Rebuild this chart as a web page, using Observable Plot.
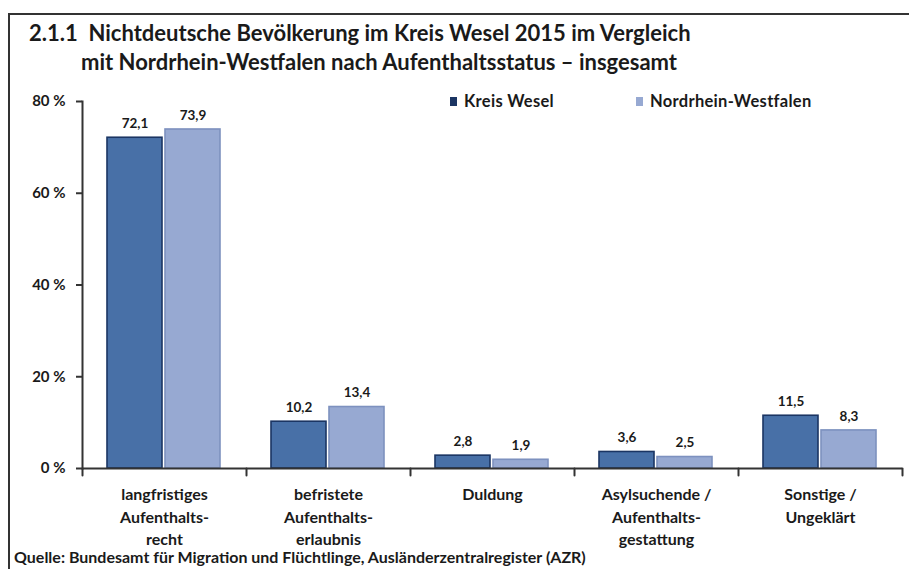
<!DOCTYPE html>
<html>
<head>
<meta charset="utf-8">
<script src="https://cdn.jsdelivr.net/npm/d3@7"></script>
<script src="https://cdn.jsdelivr.net/npm/@observablehq/plot@0.6"></script>
<style>
  html, body { margin: 0; padding: 0; background: #fff; }
  #wrap { position: relative; width: 909px; height: 569px; overflow: hidden; font-family: Lato, "Open Sans", sans-serif; color: #1a1a1a; }
  #border { position: absolute; left: 8px; top: 13px; width: 920px; height: 600px; border-left: 2px solid #333; border-top: 2px solid #333; }
  .title { position: absolute; left: 29px; font-size: 22px; font-weight: bold; white-space: nowrap; line-height: 1; }
  #legend { position: absolute; top: 91px; left: 450px; font-size: 16.5px; font-weight: bold; white-space: nowrap; letter-spacing: 0.3px; }
  #legend span.item { position: absolute; top: 0; white-space: nowrap; }
  #legend i { display: inline-block; width: 7px; height: 9px; margin-right: 7px; vertical-align: 1px; }
  #source { position: absolute; left: 14px; top: 547px; font-size: 16px; font-weight: bold; white-space: nowrap; }
  #chart { position: absolute; left: 0; top: 85px; }
</style>
</head>
<body>
<div id="wrap">
  <div id="border"></div>
  <div class="title" style="top:22px">2.1.1&nbsp; Nichtdeutsche Bevölkerung im Kreis Wesel 2015 im Vergleich</div>
  <div class="title" style="top:51px; left:81px">mit Nordrhein-Westfalen nach Aufenthaltsstatus – insgesamt</div>
  <div id="chart"></div>
  <div id="legend"></div>
  <div id="source">Quelle: Bundesamt für Migration und Flüchtlinge, Ausländerzentralregister (AZR)</div>
</div>
<script>
const categories = [
  "langfristiges\nAufenthalts-\nrecht",
  "befristete\nAufenthalts-\nerlaubnis",
  "Duldung",
  "Asylsuchende /\nAufenthalts-\ngestattung",
  "Sonstige /\nUngeklärt"
];
const series = ["Kreis Wesel", "Nordrhein-Westfalen"];
const kreisWesel = [72.1, 10.2, 2.8, 3.6, 11.5];
const nordrheinWestfalen = [73.9, 13.4, 1.9, 2.5, 8.3];
const yTicks = [0, 20, 40, 60, 80];

const fills = ["#4870a7", "#97a9d2"];
const strokes = ["#1b3563", "#7d91bf"];

const data = categories.flatMap((c, i) => [
  {cat: c, series: series[0], value: kreisWesel[i]},
  {cat: c, series: series[1], value: nordrheinWestfalen[i]}
]);

const fmt = v => v.toFixed(1).replace(".", ",");
const lineShape = {draw(ctx, l) { ctx.moveTo(0, 0); ctx.lineTo(0, -l); }};
const font = 'Lato, "Open Sans", sans-serif';

const plot = Plot.plot({
  width: 909,
  height: 470,
  marginTop: 16,
  marginBottom: 87,
  marginLeft: 80,
  marginRight: 5,
  style: {fontFamily: font, color: "#1a1a1a", background: "transparent"},
  fx: {domain: categories, paddingInner: 0, paddingOuter: 0, label: null, axis: null},
  x: {domain: series, paddingInner: 0.05, paddingOuter: 0.42, axis: null},
  y: {domain: [0, 80], axis: null},
  color: {domain: series, range: fills},
  marks: [
    Plot.barY(data, {fx: "cat", x: "series", y: "value", fill: "series",
      stroke: d => strokes[series.indexOf(d.series)], strokeWidth: 1.6}),
    Plot.text(data, {fx: "cat", x: "series", y: "value", text: d => fmt(d.value),
      dy: -14, fontSize: 13.5, fontWeight: "bold", fill: "#1a1a1a", letterSpacing: 0.5}),
    Plot.ruleY([0], {stroke: "#333", strokeWidth: 2}),
    Plot.frame({anchor: "left", facetAnchor: "left", stroke: "#333", strokeWidth: 2}),
    Plot.vector(categories, {fx: d => d, frameAnchor: "bottom-left", length: 7, rotate: 180,
      anchor: "start", shape: lineShape, stroke: "#333", strokeWidth: 2}),
    Plot.vector([categories[categories.length - 1]], {fx: d => d, frameAnchor: "bottom-right", length: 7, rotate: 180,
      anchor: "start", shape: lineShape, stroke: "#333", strokeWidth: 2}),
    Plot.axisY({ticks: yTicks, tickFormat: d => d + " %", tickSize: 6, tickPadding: 11, label: null,
      fontSize: 15, fontWeight: "bold", stroke: "#333", strokeWidth: 2}),
    Plot.axisFx({anchor: "bottom", tickSize: 0, tickPadding: 16, lineHeight: 1.4, fontSize: 16,
      fontWeight: "bold", label: null})
  ]
});
document.getElementById("chart").appendChild(plot);

const legend = document.getElementById("legend");
series.forEach((s, i) => {
  const span = document.createElement("span");
  span.className = "item";
  span.style.left = (i * 186) + "px";
  span.innerHTML = `<i style="background:${i === 0 ? strokes[0] : fills[1]}"></i>${s}`;
  legend.appendChild(span);
});
</script>
</body>
</html>
